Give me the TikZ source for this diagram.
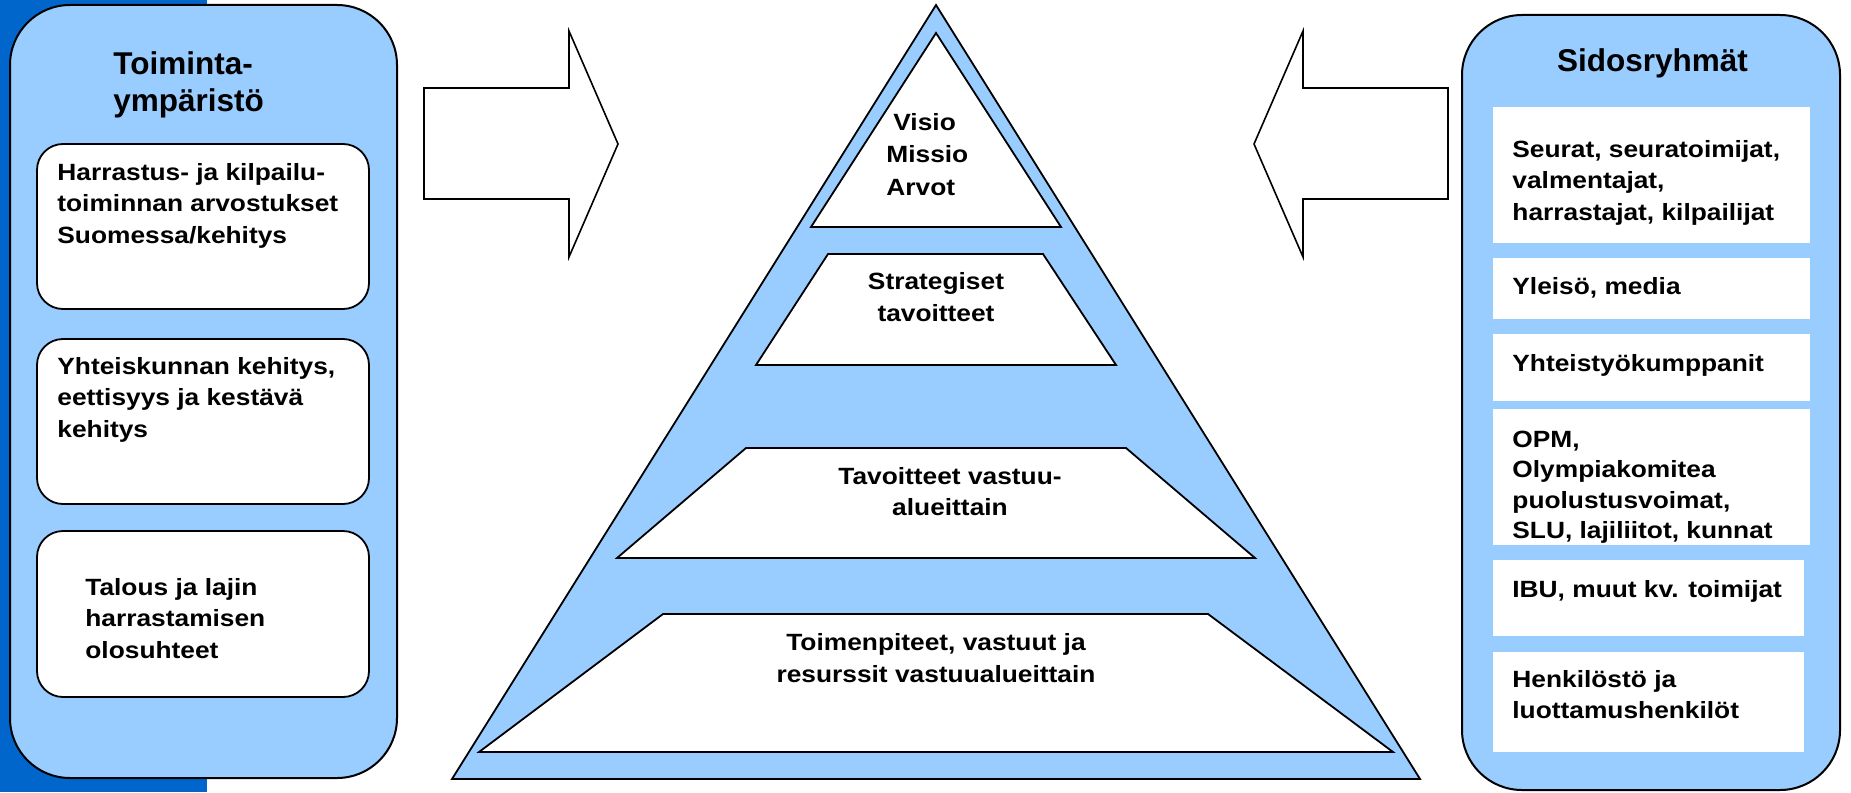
\documentclass[tikz,border=0pt]{standalone}
\usepackage{fontspec}
\setmainfont{Liberation Sans}
\newfontfamily\bodyfont{Liberation Sans}[FakeStretch=1.12]
\definecolor{lightblue}{RGB}{153,204,255}
\definecolor{stripblue}{RGB}{0,102,204}
\newcommand{\lft}[1]{\parbox[t]{220pt}{\raggedright #1}}
\newcommand{\ctr}[1]{\parbox[t]{240pt}{\centering #1}}
\tikzset{
  panel/.style={draw=black, line width=1pt, fill=lightblue, rounded corners=30pt, inner sep=0pt},
  lbox/.style={draw=black, line width=0.9pt, fill=white, rounded corners=13pt, inner sep=0pt, minimum width=166pt, minimum height=82.5pt},
  rbox/.style={fill=white, inner sep=0pt},
  pyr/.style={draw=black, line width=0.9pt, line join=miter},
  bigarrow/.style={draw=black, line width=0.8pt, fill=white, line join=miter},
  titletxt/.style={inner sep=0pt, font={\bfseries\fontsize{15.75}{18.5}\selectfont}},
  bodyl/.style={inner sep=0pt, anchor=base west, font={\bodyfont\bfseries\fontsize{11.75}{15.75}\selectfont}},
  bodyc/.style={inner sep=0pt, anchor=base, font={\bodyfont\bfseries\fontsize{11.75}{16}\selectfont}}
}
\begin{document}
\begin{tikzpicture}[x=0.5pt,y=-0.5pt]
\useasboundingbox (0,0) rectangle (1851,792);
% blue strip at the left edge
\fill[stripblue] (0,0) rectangle (207,792);

% side panels
\node[panel, minimum width=193.5pt, minimum height=386.5pt] (envpanel) at (203.5,391.5) {};
\node[panel, minimum width=189pt, minimum height=387.5pt] (stakepanel) at (1651,402.5) {};

% left inner boxes
\node[lbox] (lb1) at (203,226.5) {};
\node[lbox] (lb2) at (203,421.5) {};
\node[lbox, minimum height=83pt] (lb3) at (203,614) {};

% right inner boxes
\node[rbox, minimum width=158.5pt, minimum height=68pt]   (rb1) at (1651.5,175) {};
\node[rbox, minimum width=158.5pt, minimum height=30.5pt] (rb2) at (1651.5,288.5) {};
\node[rbox, minimum width=158.5pt, minimum height=33.5pt] (rb3) at (1651.5,367.5) {};
\node[rbox, minimum width=158.5pt, minimum height=68pt]   (rb4) at (1651.5,477) {};
\node[rbox, minimum width=155.5pt, minimum height=38pt]   (rb5) at (1648.5,598) {};
\node[rbox, minimum width=155.5pt, minimum height=50pt]   (rb6) at (1648.5,702) {};

% titles
\node[titletxt, anchor=base west] (envtitle) at (113,75) {\lft{Toiminta-\\ympäristö}};
\node[titletxt, anchor=base] (staketitle) at (1652.5,72) {Sidosryhmät};

% left texts
\node[bodyl] (lt1) at (57,180) {\lft{Harrastus- ja kilpailu-\\toiminnan arvostukset\\Suomessa/kehitys}};
\node[bodyl] (lt2) at (57,374) {\lft{Yhteiskunnan kehitys,\\eettisyys ja kestävä\\kehitys}};
\node[bodyl] (lt3) at (85,595) {\lft{Talous ja lajin\\harrastamisen\\olosuhteet}};

% right texts
\node[bodyl] (rt1) at (1512,157) {\lft{Seurat, seuratoimijat,\\valmentajat,\\harrastajat, kilpailijat}};
\node[bodyl] (rt2) at (1512,294) {Yleisö, media};
\node[bodyl] (rt3) at (1512,371) {Yhteistyökumppanit};
\node[bodyl, font={\bodyfont\bfseries\fontsize{11.75}{15.25}\selectfont}] (rt4) at (1512,447) {\lft{OPM,\\Olympiakomitea\\puolustusvoimat,\\SLU, lajiliitot, kunnat}};
\node[bodyl] (rt5) at (1512,597) {IBU, muut kv. toimijat};
\node[bodyl] (rt6) at (1512,687) {\lft{Henkilöstö ja\\luottamushenkilöt}};

% arrows
\draw[bigarrow] (424,88) -- (569,88) -- (569,31) -- (618,144) -- (569,257) -- (569,199) -- (424,199) -- cycle;
\draw[bigarrow] (1448,88) -- (1303,88) -- (1303,31) -- (1254,144) -- (1303,257) -- (1303,199) -- (1448,199) -- cycle;

% pyramid
\draw[pyr, fill=lightblue] (936,5) -- (1420,779) -- (452,779) -- cycle;
\draw[pyr, fill=white] (936,33) -- (1061,227) -- (811,227) -- cycle;
\draw[pyr, fill=white] (828,254) -- (1043,254) -- (1116,365) -- (756,365) -- cycle;
\draw[pyr, fill=white] (746,448) -- (1126,448) -- (1255,558) -- (617,558) -- cycle;
\draw[pyr, fill=white] (663,614) -- (1208,614) -- (1393,752) -- (479,752) -- cycle;

% pyramid texts
\node[bodyl, font={\bodyfont\bfseries\fontsize{11.75}{16.25}\selectfont}] (pt1) at (886,130) {\lft{\hspace*{3.5pt}Visio\\Missio\\Arvot}};
\node[bodyc] (pt2) at (936,289) {\ctr{Strategiset\\tavoitteet}};
\node[bodyc, font={\bodyfont\bfseries\fontsize{11.75}{15.5}\selectfont}] (pt3) at (950,484) {\ctr{Tavoitteet vastuu-\\alueittain}};
\node[bodyc] (pt4) at (936,650) {\ctr{Toimenpiteet, vastuut ja\\resurssit vastuualueittain}};
\end{tikzpicture}
\end{document}
